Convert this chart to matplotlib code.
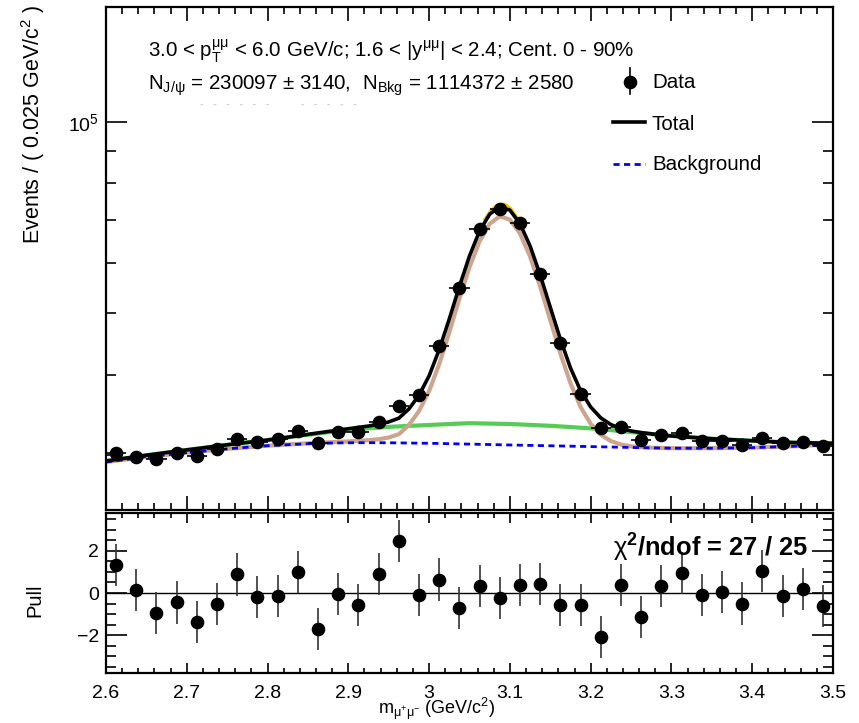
import numpy as np
import matplotlib
matplotlib.use('Agg')
import matplotlib.pyplot as plt
from matplotlib.ticker import LogLocator, NullFormatter, MultipleLocator, FixedLocator, FuncFormatter

plt.rcParams['font.family'] = ['Liberation Sans', 'DejaVu Sans']
plt.rcParams['mathtext.fontset'] = 'custom'
plt.rcParams['mathtext.rm'] = 'Liberation Sans'
plt.rcParams['mathtext.it'] = 'Liberation Sans:italic'
plt.rcParams['mathtext.bf'] = 'Liberation Sans:bold'

# ---------------- data ----------------
bin_centers = [2.6125, 2.6375, 2.6625, 2.6875, 2.7125, 2.7375, 2.7625, 2.7875, 2.8125,
               2.8375, 2.8625, 2.8875, 2.9125, 2.9375, 2.9625, 2.9875, 3.0125, 3.0375,
               3.0625, 3.0875, 3.1125, 3.1375, 3.1625, 3.1875, 3.2125, 3.2375, 3.2625,
               3.2875, 3.3125, 3.3375, 3.3625, 3.3875, 3.4125, 3.4375, 3.4625, 3.4875]
bin_half_width = 0.0125
data_counts = [30160, 29790, 29510, 30160, 29870, 30640, 31760, 31380, 31720,
               32660, 31330, 32540, 32540, 33830, 35790, 37240, 44450, 54770,
               67780, 72950, 69400, 57600, 44990, 37370, 32990, 33200, 31640,
               32230, 32420, 31560, 31560, 31080, 31910, 31270, 31370, 31000]
data_err = [643, 639, 636, 643, 639, 648, 659, 655, 659,
            669, 655, 667, 667, 680, 700, 714, 780, 866,
            963, 999, 975, 888, 785, 715, 672, 674, 658,
            664, 666, 657, 657, 652, 661, 654, 655, 651]
pull_values = [1.33, 0.13, -0.96, -0.45, -1.39, -0.51, 0.88, -0.19, -0.14,
               1.01, -1.71, -0.03, -0.56, 0.91, 2.46, -0.10, 0.64, -0.72,
               0.35, -0.24, 0.37, 0.42, -0.58, -0.56, -2.08, 0.40, -1.14,
               0.32, 0.96, -0.11, 0.06, -0.50, 1.04, -0.13, 0.19, -0.61]
pull_err = [1.0, 1.0, 1.0, 1.0, 1.0, 1.0, 1.0, 1.0, 1.0,
            1.0, 1.0, 1.0, 1.0, 1.0, 1.0, 1.0, 1.0, 1.0,
            1.0, 1.0, 1.0, 1.0, 1.0, 1.0, 1.0, 1.0, 1.0,
            1.0, 1.0, 1.0, 1.0, 1.0, 1.0, 1.0, 1.0, 1.0]

# fit curves sampled along the mass axis
curve_x = [2.60, 2.65, 2.70, 2.75, 2.80, 2.85, 2.875, 2.90, 2.925, 2.9375, 2.95, 2.9625,
           2.975, 2.9875, 3.0, 3.0125, 3.025, 3.0375, 3.05, 3.0625, 3.075, 3.0875, 3.1,
           3.1125, 3.125, 3.1375, 3.15, 3.1625, 3.175, 3.1875, 3.2, 3.2125, 3.225, 3.2375,
           3.25, 3.2625, 3.275, 3.30, 3.35, 3.40, 3.45, 3.50]
bkg_curve = [29230, 29760, 30230, 30650, 31000, 31220, 31290, 31330, 31335, 31335, 31330, 31315,
             31300, 31285, 31270, 31250, 31225, 31200, 31180, 31155, 31130, 31105, 31080,
             31058, 31035, 31012, 30990, 30968, 30945, 30922, 30900, 30875, 30850, 30825,
             30800, 30780, 30760, 30720, 30720, 30780, 30930, 31160]
bkg_broad_curve = [29330, 29950, 30530, 31100, 31640, 32250, 32540, 32810, 33005, 33095, 33180, 33240,
                   33300, 33355, 33410, 33470, 33525, 33580, 33630, 33605, 33580, 33555, 33530,
                   33478, 33420, 33362, 33310, 33238, 33160, 33082, 33010, 32900, 32790, 32680,
                   32570, 32455, 32340, 32110, 31790, 31560, 31350, 31270]
bkg_sig_curve = [29230, 29760, 30230, 30650, 31000, 31270, 31380, 31480, 31615, 31735, 31930, 32315,
                 33400, 35135, 37770, 41640, 46725, 52750, 59110, 64915, 69160, 71045, 70190,
                 66758, 61425, 55122, 48820, 43268, 38850, 35658, 33545, 32255, 31520, 31128,
                 30928, 30830, 30778, 30720, 30720, 30780, 30930, 31160]
total_curve = [29330, 29950, 30530, 31100, 31640, 32300, 32630, 32960, 33285, 33495, 33780, 34240,
               35400, 37205, 39910, 43860, 49025, 55130, 61560, 67365, 71610, 73495, 72640,
               69178, 63810, 57472, 51140, 45538, 41065, 37818, 35655, 34280, 33460, 32983,
               32698, 32505, 32358, 32110, 31790, 31560, 31350, 31270]
peak_x = [3.07, 3.0775, 3.085, 3.0925, 3.10, 3.1075]
peak_curve = [70300, 72600, 73900, 74100, 73100, 70900]

x_ticks = [2.6, 2.7, 2.8, 2.9, 3.0, 3.1, 3.2, 3.3, 3.4, 3.5]
pull_ticks = [-2, 0, 2]

# ---------------- figure ----------------
W, H = 859, 723
fig = plt.figure(figsize=(W / 100, H / 100), dpi=100)
L, R = 106, 833
ax = fig.add_axes([L / W, 1 - 510 / H, (R - L) / W, (510 - 7) / H])
axp = fig.add_axes([L / W, 1 - 673 / H, (R - L) / W, (673 - 513) / H])

ax.plot(curve_x, bkg_broad_curve, color='#55cc55', lw=3.0, zorder=2)
ax.plot(curve_x, bkg_sig_curve, color='#cda58e', lw=3.0, zorder=2.2)
ax.plot(peak_x, peak_curve, color='#f5c400', lw=3.0, zorder=2.4)
ax.plot(curve_x, bkg_curve, color='#0000ee', lw=2.0, ls=(0, (2.2, 1.6)), zorder=3)
ax.plot(curve_x, total_curve, color='black', lw=2.6, zorder=4)
ax.errorbar(bin_centers, data_counts, yerr=data_err, xerr=bin_half_width, fmt='o',
            color='black', ms=8.8, elinewidth=1.2, capsize=0, zorder=5)

ax.set_xlim(2.6, 3.5)
ax.set_yscale('log')
ax.set_ylim(2.457e4, 1.514e5)
ax.xaxis.set_major_locator(FixedLocator(x_ticks))
ax.xaxis.set_minor_locator(MultipleLocator(0.02))
ax.yaxis.set_major_locator(LogLocator(base=10, numticks=10))
ax.yaxis.set_minor_locator(LogLocator(base=10, subs=np.arange(2, 10), numticks=10))
ax.yaxis.set_minor_formatter(NullFormatter())
ax.tick_params(which='both', direction='in', top=True, right=True, labelbottom=False,
               width=1.2, labelsize=14, pad=5)
ax.tick_params(axis='x', which='major', length=10)
ax.tick_params(axis='x', which='minor', length=5)
ax.tick_params(axis='y', which='major', length=15)
ax.tick_params(axis='y', which='minor', length=7.5)
for s in ax.spines.values():
    s.set_linewidth(1.6)


def px(xp, yp):
    return ((xp - L) / (R - L), (510 - yp) / (510 - 7))


FS = 14.8
ax.text(*px(148, 57), r'3.0 < $\mathrm{p}_{\mathrm{T}}^{\mathrm{μμ}}$ < 6.0 GeV/c; 1.6 < |$\mathrm{y}^{\mathrm{μμ}}$| < 2.4; Cent. 0 - 90%',
        transform=ax.transAxes, fontsize=FS, va='baseline', ha='left')
ax.text(*px(148, 90), r'$\mathrm{N}_{\mathrm{J/ψ}}$ = 230097 ± 3140,  $\mathrm{N}_{\mathrm{Bkg}}$ = 1114372 ± 2580',
        transform=ax.transAxes, fontsize=FS, va='baseline', ha='left')
ax.text(*px(200, 107), '-   -   -   -   -   -          -   -   -   -   -', transform=ax.transAxes,
        fontsize=8, color='#bdbdbd', va='baseline', ha='left')

# legend
lx0, lx1 = px(613, 0)[0], px(645, 0)[0]
mx, my = px(630, 82)
ax.plot([mx], [my], 'o', color='black', ms=8.8, transform=ax.transAxes, clip_on=False, zorder=6)
ax.plot([mx, mx], [px(0, 68)[1], px(0, 94)[1]], color='black', lw=1.2, transform=ax.transAxes, zorder=6)
ax.plot([lx0, lx1], [px(0, 122)[1]] * 2, color='black', lw=2.6, transform=ax.transAxes, zorder=6)
ax.plot([lx0, lx1], [px(0, 164)[1]] * 2, color='#0000ee', lw=2.0, ls=(0, (2.2, 1.6)),
        transform=ax.transAxes, zorder=6)
for txt, yy in [('Data', 82), ('Total', 125), ('Background', 165)]:
    ax.text(*px(652, yy), txt, transform=ax.transAxes, fontsize=FS, va='center', ha='left')

# pull panel
axp.axhline(0, color='black', lw=1.0, zorder=1)
axp.errorbar(bin_centers, pull_values, yerr=pull_err, fmt='o', color='black', ecolor='#333333',
             ms=8.8, elinewidth=1.2, capsize=0, zorder=3)
axp.set_xlim(2.6, 3.5)
axp.set_ylim(-3.8, 3.8)
axp.xaxis.set_major_locator(FixedLocator(x_ticks))
axp.xaxis.set_minor_locator(MultipleLocator(0.02))
axp.xaxis.set_major_formatter(FuncFormatter(lambda v, p: '%g' % v))
axp.yaxis.set_major_locator(FixedLocator(pull_ticks))
axp.yaxis.set_minor_locator(MultipleLocator(0.5))
axp.tick_params(which='both', direction='in', top=True, right=True, width=1.2, labelsize=14)
axp.tick_params(axis='x', which='major', length=7, pad=9)
axp.tick_params(axis='x', which='minor', length=3.5)
axp.tick_params(axis='y', which='major', length=15, pad=5)
axp.tick_params(axis='y', which='minor', length=7.5)
for s in axp.spines.values():
    s.set_linewidth(1.6)

axp.text(px(808, 0)[0], 0.73, r'$\mathrm{χ}^{\mathbf{2}}$/ndof = 27 / 25', transform=axp.transAxes,
         fontsize=18.4, fontweight='bold', ha='right', va='baseline')

fig.text(33 / W, 1 - 5 / H, r'Events / ( 0.025 GeV/c$^{2}$ )', rotation=90, fontsize=15.5,
         ha='center', va='top')
fig.text(35 / W, 1 - 600 / H, 'Pull', rotation=90, fontsize=14.5, ha='center', va='center')
fig.text(437 / W, 1 - 709 / H, r'$\mathrm{m}_{\mathrm{μ^{+}μ^{-}}}$ (GeV/c$^{2}$)', fontsize=13,
         ha='center', va='center')

fig.savefig('out.png', dpi=100)
